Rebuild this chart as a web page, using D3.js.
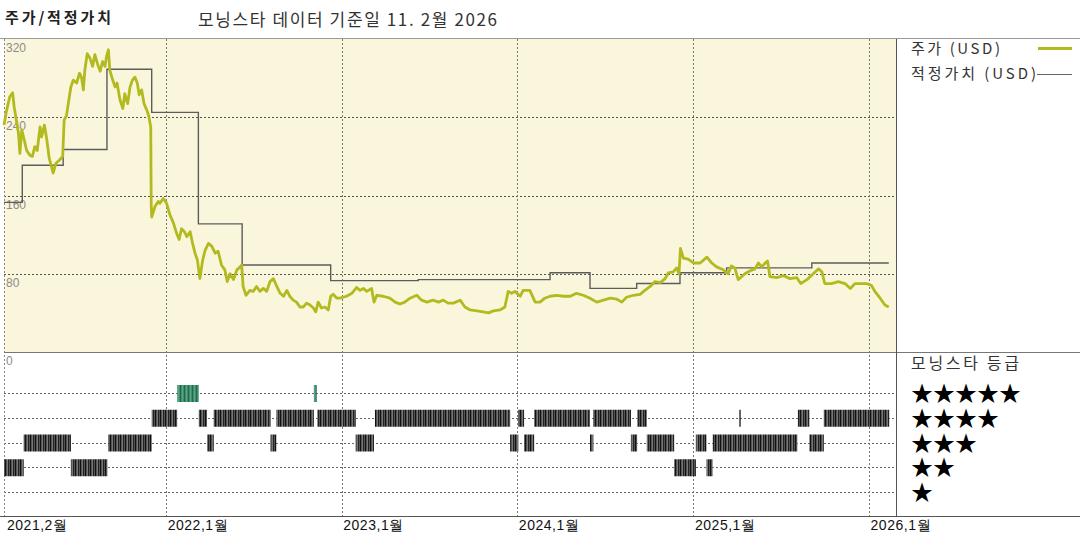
<!DOCTYPE html>
<html><head><meta charset="utf-8">
<script src="https://cdn.jsdelivr.net/npm/d3@7"></script>
<style>
html,body{margin:0;padding:0;background:#fff;}
svg{display:block;font-family:"Noto Sans CJK KR","Noto Sans",sans-serif;}
</style></head>
<body><svg id="c" width="1080" height="540"></svg>
<script>
// ---------- DATA ----------
const priceDates = ["2021-01-29","2021-02-03","2021-02-10","2021-02-16","2021-02-19","2021-02-23","2021-02-28","2021-03-03","2021-03-07","2021-03-12","2021-03-17","2021-03-24","2021-03-29","2021-04-03","2021-04-08","2021-04-14","2021-04-17","2021-04-23","2021-04-28","2021-05-03","2021-05-08","2021-05-11","2021-05-17","2021-05-24","2021-05-31","2021-06-03","2021-06-08","2021-06-12","2021-06-17","2021-06-22","2021-06-29","2021-07-05","2021-07-09","2021-07-13","2021-07-16","2021-07-21","2021-07-27","2021-08-01","2021-08-06","2021-08-11","2021-08-17","2021-08-22","2021-08-27","2021-08-30","2021-09-03","2021-09-06","2021-09-12","2021-09-17","2021-09-21","2021-09-27","2021-10-03","2021-10-07","2021-10-13","2021-10-18","2021-10-23","2021-10-28","2021-11-02","2021-11-06","2021-11-11","2021-11-16","2021-11-22","2021-11-26","2021-11-30","2021-12-01","2021-12-02","2021-12-09","2021-12-16","2021-12-19","2021-12-26","2022-01-02","2022-01-09","2022-01-16","2022-01-23","2022-01-28","2022-02-02","2022-02-08","2022-02-13","2022-02-20","2022-02-25","2022-03-02","2022-03-07","2022-03-12","2022-03-18","2022-03-23","2022-03-30","2022-04-06","2022-04-13","2022-04-19","2022-04-26","2022-05-03","2022-05-08","2022-05-14","2022-05-21","2022-05-28","2022-06-04","2022-06-07","2022-06-10","2022-06-16","2022-06-24","2022-07-01","2022-07-08","2022-07-15","2022-07-22","2022-07-29","2022-08-05","2022-08-12","2022-08-19","2022-08-26","2022-09-02","2022-09-09","2022-09-15","2022-09-22","2022-09-29","2022-10-06","2022-10-13","2022-10-20","2022-10-27","2022-11-03","2022-11-08","2022-11-13","2022-11-20","2022-11-27","2022-12-04","2022-12-09","2022-12-14","2022-12-22","2022-12-28","2023-01-11","2023-01-22","2023-02-01","2023-02-08","2023-02-15","2023-02-22","2023-03-04","2023-03-09","2023-03-15","2023-03-28","2023-04-11","2023-04-22","2023-05-02","2023-05-12","2023-05-23","2023-06-06","2023-06-16","2023-06-27","2023-07-10","2023-07-21","2023-07-31","2023-08-10","2023-08-21","2023-09-04","2023-09-14","2023-09-25","2023-10-09","2023-10-22","2023-11-02","2023-11-12","2023-11-26","2023-12-06","2023-12-13","2023-12-20","2023-12-27","2024-01-07","2024-01-13","2024-01-27","2024-02-07","2024-02-17","2024-02-27","2024-03-09","2024-03-23","2024-04-06","2024-04-20","2024-05-03","2024-05-17","2024-05-31","2024-06-14","2024-06-28","2024-07-12","2024-07-26","2024-08-05","2024-08-15","2024-08-29","2024-09-12","2024-09-22","2024-10-03","2024-10-13","2024-10-24","2024-11-03","2024-11-10","2024-11-20","2024-11-27","2024-12-02","2024-12-05","2024-12-11","2024-12-21","2025-01-01","2025-01-15","2025-01-29","2025-02-08","2025-02-18","2025-03-04","2025-03-14","2025-03-21","2025-03-28","2025-04-04","2025-04-11","2025-04-18","2025-04-29","2025-05-09","2025-05-16","2025-05-23","2025-05-30","2025-06-04","2025-06-09","2025-06-23","2025-07-07","2025-07-21","2025-08-04","2025-08-12","2025-08-25","2025-09-07","2025-09-18","2025-09-25","2025-10-01","2025-10-15","2025-10-29","2025-11-12","2025-11-23","2025-12-03","2025-12-13","2025-12-27","2026-01-06","2026-01-13","2026-01-24","2026-02-03","2026-02-11"];
const priceValues = [232,246,261,265,251,239,224,203,227,217,206,201,200,210,206,230,220,232,217,198,189,183,193,196,200,237,242,255,271,278,275,285,281,268,288,305,300,292,304,295,287,297,292,302,309,288,278,271,275,258,249,264,254,271,278,281,275,263,268,254,247,241,230,150,138,149,154,152,157,152,140,132,121,115,126,123,118,123,111,101,94,75,94,104,111,108,101,103,89,84,72,80,74,84,87,89,67,58,63,62,67,62,65,62,72,75,67,60,57,63,57,53,51,46,46,50,48,45,41,51,45,46,43,57,59,55,55,57,60,66,63,65,62,65,51,58,57,55,51,49,51,55,58,53,51,53,51,53,50,50,53,46,43,42,41,40,42,43,46,62,60,62,57,63,63,51,51,55,57,58,57,57,60,58,55,51,53,55,54,51,56,58,59,63,67,72,71,75,81,82,86,80,106,96,95,91,91,97,91,87,84,80,88,86,74,77,80,83,85,91,87,91,93,77,76,78,75,76,70,74,80,85,82,70,70,72,70,65,70,70,70,68,62,55,48,46];

const fairDates  = ["2021-01-29","2021-03-08","2021-06-01","2021-08-31","2021-12-02","2022-03-09","2022-06-08","2022-12-09","2023-06-09","2024-03-09","2024-05-31","2024-09-05","2024-12-04","2025-03-11","2025-09-04","2026-02-11"];
const fairValues = [153,191,207,289,245,131,89,73,74,81,65,70,81,86,91,91];

const ratingStart = ["2021-01-29","2021-03-11","2021-06-17","2021-09-03","2021-12-02","2022-01-24","2022-03-10","2022-03-27","2022-04-10","2022-08-06","2022-08-18","2022-11-04","2022-11-11","2023-01-30","2023-03-11","2023-12-17","2024-01-03","2024-01-15","2024-02-05","2024-05-31","2024-06-07","2024-08-24","2024-09-06","2024-09-26","2024-11-22","2025-01-06","2025-01-28","2025-02-10","2025-04-06","2025-08-06","2025-08-30","2025-09-29"];
const ratingEnd   = ["2021-03-11","2021-06-17","2021-09-01","2021-12-02","2022-01-24","2022-03-10","2022-03-27","2022-04-10","2022-08-06","2022-08-18","2022-11-04","2022-11-10","2023-01-30","2023-03-09","2023-12-17","2024-01-03","2024-01-15","2024-02-05","2024-05-31","2024-06-07","2024-08-24","2024-09-06","2024-09-26","2024-11-22","2025-01-06","2025-01-28","2025-02-10","2025-08-05","2025-04-07","2025-08-30","2025-09-29","2026-02-12"];
const ratingStars = [2,3,2,3,4,5,4,3,4,3,4,5,4,3,4,3,4,3,4,3,4,3,4,3,2,3,2,3,4,4,3,4];

const priceTicks = [320,240,160,80,0];
const xTickDates = ["2021-02-01","2022-01-01","2023-01-01","2024-01-01","2025-01-01","2026-01-01"];
const xTickLabels = ["2021,2월","2022,1월","2023,1월","2024,1월","2025,1월","2026,1월"];
const starRows = [5,4,3,2,1];

const titleLeft = "주가/적정가치";
const titleMain = "모닝스타 데이터 기준일 11. 2월 2026";
const legendPrice = "주가 (USD)";
const legendFair = "적정가치 (USD)";
const ratingTitle = "모닝스타 등급";

// ---------- DRAW ----------
const parse = d3.timeParse("%Y-%m-%d");
const svg = d3.select("#c");
const L = 4, R = 896, T = 39, PB = 352, B = 516;
const x = d3.scaleTime().domain([parse("2021-01-29"), parse("2026-02-26")]).range([L, R]);
const y = d3.scaleLinear().domain([0, 320]).range([PB, T]);
const yr = d3.scaleLinear().domain([5, 1]).range([393, 492]);

const GREEN = "#b2ba1f";

// patterns
const defs = svg.append("defs");
const pat = defs.append("pattern").attr("id","stripe").attr("patternUnits","userSpaceOnUse").attr("width",5).attr("height",20);
pat.append("rect").attr("width",5).attr("height",20).attr("fill","#555");
pat.append("rect").attr("x",0).attr("width",1).attr("height",20).attr("fill","#111");
pat.append("rect").attr("x",2).attr("width",1).attr("height",20).attr("fill","#777");
pat.append("rect").attr("x",3).attr("width",1).attr("height",20).attr("fill","#222");
const patG = defs.append("pattern").attr("id","stripeG").attr("patternUnits","userSpaceOnUse").attr("width",4).attr("height",20);
patG.append("rect").attr("width",4).attr("height",20).attr("fill","#3f8f6c");
patG.append("rect").attr("x",0).attr("width",1).attr("height",20).attr("fill","#24684c");
patG.append("rect").attr("x",2).attr("width",1).attr("height",20).attr("fill","#5aa384");

// background of price panel
svg.append("rect").attr("x", L).attr("y", T).attr("width", R - L).attr("height", PB - T).attr("fill", "#faf6db");

// horizontal top frame line
svg.append("line").attr("x1",0).attr("x2",1080).attr("y1",38.5).attr("y2",38.5).attr("stroke","#9a9a9a");

// price horizontal gridlines
svg.append("g").selectAll("line").data([240,160,80]).join("line")
  .attr("x1", L).attr("x2", R).attr("y1", d => Math.round(y(d)) + 0.5).attr("y2", d => Math.round(y(d)) + 0.5)
  .attr("stroke", "#555").attr("stroke-dasharray", "2,2");

// rating row gridlines
svg.append("g").selectAll("line").data(starRows).join("line")
  .attr("x1", L).attr("x2", R).attr("y1", d => Math.round(yr(d)) + 0.5).attr("y2", d => Math.round(yr(d)) + 0.5)
  .attr("stroke", "#666").attr("stroke-dasharray", "2,2");

// vertical gridlines (year)
svg.append("g").selectAll("line").data(xTickDates.slice(1)).join("line")
  .attr("x1", d => Math.round(x(parse(d))) + 0.5).attr("x2", d => Math.round(x(parse(d))) + 0.5)
  .attr("y1", T).attr("y2", B).attr("stroke", "#777").attr("stroke-dasharray", "2,2");
svg.append("line").attr("x1", L + 0.5).attr("x2", L + 0.5).attr("y1", T).attr("y2", B)
  .attr("stroke", "#888").attr("stroke-dasharray", "2,2");

// divider between panels
svg.append("line").attr("x1", L).attr("x2", 1080).attr("y1", PB + 0.5).attr("y2", PB + 0.5).attr("stroke", "#777");
// bottom axis line
svg.append("line").attr("x1", 0).attr("x2", 1080).attr("y1", B + 0.5).attr("y2", B + 0.5).attr("stroke", "#555");
// legend panel separator
svg.append("line").attr("x1", R + 0.5).attr("x2", R + 0.5).attr("y1", T).attr("y2", B).attr("stroke", "#555");

// y axis labels
const yAxis = d3.axisRight(y).tickValues(priceTicks).tickSize(0).tickFormat(d3.format("d"));
const gy = svg.append("g").attr("transform", `translate(${L + 2},0)`).call(yAxis);
gy.select(".domain").remove();
gy.selectAll("text").attr("x", 0).attr("dy", "1.05em").attr("fill", "#8a8a8a")
  .style("font-size", "12px").style("font-family", "'Liberation Sans',Arial,sans-serif");

// rating bars
const ratings = ratingStart.map((s, i) => ({ s: parse(ratingStart[i]), e: parse(ratingEnd[i]), r: ratingStars[i] }));
svg.append("g").selectAll("rect").data(ratings).join("rect")
  .attr("x", d => x(d.s))
  .attr("width", d => Math.max(1.5, x(d.e) - x(d.s)))
  .attr("y", d => yr(d.r) - 8)
  .attr("height", 17)
  .attr("fill", d => d.r === 5 ? "url(#stripeG)" : "url(#stripe)");

// fair value step line
const fair = fairDates.map((d, i) => ({ d: parse(d), v: fairValues[i] }));
svg.append("path").datum(fair)
  .attr("d", d3.line().x(d => x(d.d)).y(d => y(d.v)).curve(d3.curveStepAfter))
  .attr("fill", "none").attr("stroke", "#5c5c5c").attr("stroke-width", 1.4);

// price line
const price = priceDates.map((d, i) => ({ d: parse(d), v: priceValues[i] }));
svg.append("path").datum(price)
  .attr("d", d3.line().x(d => x(d.d)).y(d => y(d.v)))
  .attr("fill", "none").attr("stroke", GREEN).attr("stroke-width", 2.8).attr("stroke-linejoin", "round");

// x axis labels
const xAxis = d3.axisBottom(x).tickValues(xTickDates.map(parse)).tickSize(0)
  .tickFormat((d, i) => xTickLabels[i]);
const gx = svg.append("g").attr("transform", `translate(0,${B})`).call(xAxis);
gx.select(".domain").remove();
gx.selectAll("text").attr("text-anchor", "start").attr("dx", "1").attr("y", 1).attr("dy", "0.95em")
  .attr("fill", "#111").style("font-size", "14px").attr("textLength", 60).attr("lengthAdjust", "spacing");

// titles
svg.append("text").attr("x", 5).attr("y", 23).text(titleLeft)
  .style("font-size", "15px").style("font-weight", "bold").attr("fill", "#222")
  .attr("textLength", 106).attr("lengthAdjust", "spacing");
svg.append("text").attr("x", 198).attr("y", 26).text(titleMain)
  .style("font-size", "17px").attr("fill", "#333")
  .attr("textLength", 299).attr("lengthAdjust", "spacing");

// legend
svg.append("text").attr("x", 911).attr("y", 54).text(legendPrice).style("font-size", "15px").attr("fill", "#333")
  .attr("textLength", 89).attr("lengthAdjust", "spacing");
svg.append("line").attr("x1", 1038).attr("x2", 1072).attr("y1", 48.5).attr("y2", 48.5).attr("stroke", GREEN).attr("stroke-width", 3);
svg.append("text").attr("x", 911).attr("y", 79).text(legendFair).style("font-size", "15px").attr("fill", "#333")
  .attr("textLength", 125).attr("lengthAdjust", "spacing");
svg.append("line").attr("x1", 1037).attr("x2", 1072).attr("y1", 74.5).attr("y2", 74.5).attr("stroke", "#666").attr("stroke-width", 1);

// rating legend
svg.append("text").attr("x", 911).attr("y", 369).text(ratingTitle).style("font-size", "16px").attr("fill", "#333")
  .attr("textLength", 108).attr("lengthAdjust", "spacing");
svg.append("g").selectAll("text").data(starRows).join("text")
  .attr("x", 911).attr("y", d => yr(d) + 8)
  .text(d => "★".repeat(d))
  .style("font-size", "22px").attr("fill", "#000");
</script></body></html>
